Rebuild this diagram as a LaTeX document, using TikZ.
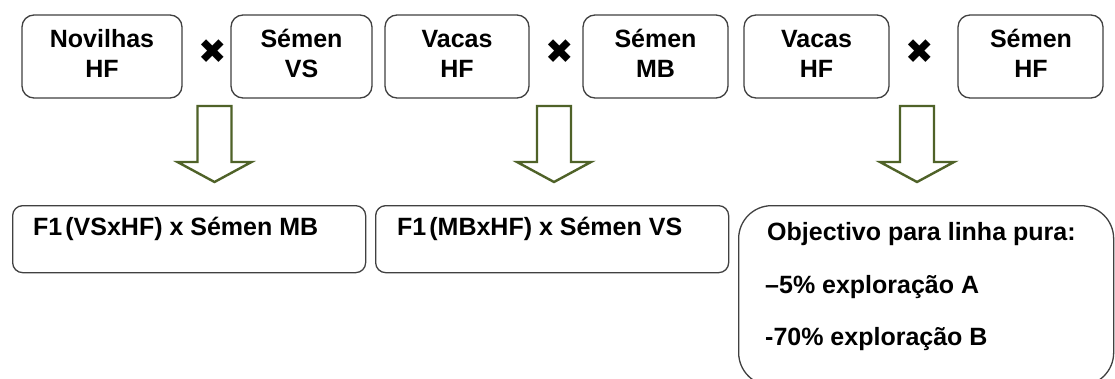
\documentclass[tikz,border=0pt]{standalone}
\usepackage{fontspec}
\setmainfont{Liberation Sans}
\newfontfamily\symfont{DejaVu Sans}
\definecolor{arrowgreen}{HTML}{4F6228}
\definecolor{boxgray}{HTML}{404040}
\begin{document}
\begin{tikzpicture}[x=1pt,y=-1pt,
  box/.style={draw=boxgray, line width=1.3pt, rounded corners=12pt, fill=white, inner sep=0pt},
  txt/.style={font=\fontsize{25}{28}\selectfont\bfseries, inner sep=0pt, anchor=base},
  ltxt/.style={font=\fontsize{25}{28}\selectfont\bfseries, inner sep=0pt, anchor=base west},
  cross/.style={font=\symfont\fontsize{34}{36}\selectfont, inner sep=0pt},
  blockarrow/.pic={\draw[draw=arrowgreen, line width=2.4pt, fill=white, line join=miter]
     (-17,0) -- (17,0) -- (17,56) -- (37,56) -- (0,76) -- (-37,56) -- (-17,56) -- cycle;}]
\useasboundingbox (0,0) rectangle (1115,378);
\fill[white] (0,0) rectangle (1115,378);
% top boxes
\node[box, minimum width=160pt, minimum height=83pt] (b1) at (102,56.5) {};
\node[box, minimum width=141pt, minimum height=83pt] (b2) at (301.5,56.5) {};
\node[box, minimum width=144pt, minimum height=83pt] (b3) at (457,56.5) {};
\node[box, minimum width=145pt, minimum height=83pt] (b4) at (655.5,56.5) {};
\node[box, minimum width=145pt, minimum height=83pt] (b5) at (816.5,56.5) {};
\node[box, minimum width=145pt, minimum height=83pt] (b6) at (1030.5,56.5) {};
\node[txt] (t1a) at (102,47) {Novilhas};
\node[txt] (t1b) at (102,77) {HF};
\node[txt] (t2a) at (301.5,47) {Sémen};
\node[txt] (t2b) at (301.5,77) {VS};
\node[txt] (t3a) at (457,47) {Vacas};
\node[txt] (t3b) at (457,77) {HF};
\node[txt] (t4a) at (655.5,47) {Sémen};
\node[txt] (t4b) at (655.5,77) {MB};
\node[txt] (t5a) at (816.5,47) {Vacas};
\node[txt] (t5b) at (816.5,77) {HF};
\node[txt] (t6a) at (1031,47) {Sémen};
\node[txt] (t6b) at (1031,77) {HF};
% crosses
\node[cross] (x1) at (213,52) {✖};
\node[cross] (x2) at (560,52) {✖};
\node[cross] (x3) at (920,52) {✖};
% block arrows
\pic at (214.5,106) {blockarrow};
\pic at (554,106) {blockarrow};
\pic at (917,106) {blockarrow};
% bottom boxes
\node[box, rounded corners=10pt, minimum width=353pt, minimum height=67pt, anchor=north west] (r1) at (12,205) {};
\node[box, rounded corners=10pt, minimum width=353pt, minimum height=67pt, anchor=north west] (r2) at (375,205) {};
\node[ltxt] (rt1) at (33,235) {F1\kern3pt(VSxHF) x Sémen MB};
\node[ltxt] (rt2) at (397,235) {F1\kern3pt(MBxHF) x Sémen VS};
\begin{scope}
\clip (0,0) rectangle (1115,378);
\node[box, rounded corners=33pt, minimum width=375pt, minimum height=180pt, anchor=north west] (r3) at (738,205) {};
\end{scope}
\node[ltxt] (g1) at (767,240) {Objectivo para linha pura:};
\node[ltxt] (g2) at (765,293) {–5\% exploração A};
\node[ltxt] (g3) at (765,345) {-70\% exploração B};
\end{tikzpicture}
\end{document}
